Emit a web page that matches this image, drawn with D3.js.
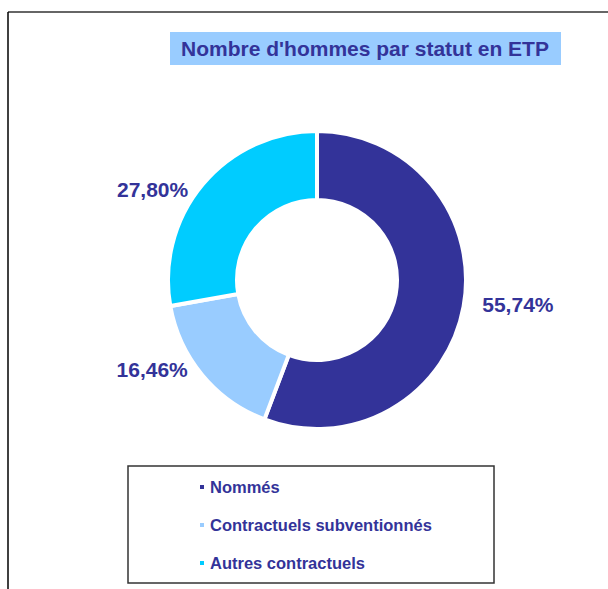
<!DOCTYPE html>
<html lang="fr">
<head>
<meta charset="utf-8">
<title>Nombre d'hommes par statut en ETP</title>
<script src="https://d3js.org/d3.v7.min.js"></script>
<style>
  body { margin: 0; background: #fff; }
  svg { display: block; font-family: "Liberation Sans", Arial, sans-serif; }
  .lbl { font-weight: bold; fill: #333399; }
</style>
</head>
<body>
<svg width="608" height="589"></svg>
<script>
// data
var categories = ["Nommés", "Contractuels subventionnés", "Autres contractuels"];
var values = [55.74, 16.46, 27.80];
var labels = ["55,74%", "16,46%", "27,80%"];
var colors = ["#333399", "#99CCFF", "#00CCFF"];
var title = "Nombre d'hommes par statut en ETP";

var svg = d3.select("svg");
var cx = 317, cy = 280;
var rOut = 149, rIn = 80;

// frame (top + left edge)
svg.append("line").attr("x1", 8).attr("y1", 12).attr("x2", 608).attr("y2", 12)
  .attr("stroke", "#333").attr("stroke-width", 1.5);
svg.append("line").attr("x1", 8).attr("y1", 12).attr("x2", 8).attr("y2", 589)
  .attr("stroke", "#000").attr("stroke-width", 1.5);

// title
svg.append("rect").attr("x", 170).attr("y", 32).attr("width", 391).attr("height", 33)
  .attr("fill", "#99CCFF");
svg.append("text").attr("class", "lbl")
  .attr("x", 365).attr("y", 56)
  .attr("text-anchor", "middle")
  .style("font-size", "21px")
  .text(title);

var data = categories.map(function(c, i) { return { name: c, value: values[i], label: labels[i], color: colors[i] }; });

var pie = d3.pie().sort(null).value(function(d) { return d.value; });
var arc = d3.arc().innerRadius(rIn).outerRadius(rOut);

var g = svg.append("g").attr("transform", "translate(" + cx + "," + cy + ")");

var arcs = pie(data);

g.selectAll("path")
  .data(arcs)
  .enter().append("path")
  .attr("d", arc)
  .attr("fill", function(d) { return d.data.color; })
  .attr("stroke", "#fff")
  .attr("stroke-width", 4);

// labels outside the ring
g.selectAll("text.val")
  .data(arcs)
  .enter().append("text")
  .attr("class", "lbl val")
  .style("font-size", "21px")
  .attr("x", function(d) {
    var a = (d.startAngle + d.endAngle) / 2;
    return Math.sin(a) * 168;
  })
  .attr("y", function(d) {
    var a = (d.startAngle + d.endAngle) / 2;
    return -Math.cos(a) * 140;
  })
  .attr("dy", "0.35em")
  .attr("text-anchor", function(d) {
    var a = (d.startAngle + d.endAngle) / 2;
    return a < Math.PI ? "start" : "end";
  })
  .text(function(d) { return d.data.label; });

// legend
svg.append("rect").attr("x", 128).attr("y", 466).attr("width", 366).attr("height", 117)
  .attr("fill", "#fff").attr("stroke", "#333").attr("stroke-width", 1.5);

var y = d3.scalePoint().domain(categories).range([487, 563]);

var leg = svg.selectAll("g.leg")
  .data(data)
  .enter().append("g")
  .attr("class", "leg")
  .attr("transform", function(d) { return "translate(0," + y(d.name) + ")"; });

leg.append("rect")
  .attr("x", 200).attr("y", -2).attr("width", 4).attr("height", 4)
  .attr("fill", function(d) { return d.color; });

leg.append("text")
  .attr("class", "lbl")
  .attr("x", 210).attr("dy", "0.35em")
  .style("font-size", "16.5px")
  .text(function(d) { return d.name; });
</script>
</body>
</html>
